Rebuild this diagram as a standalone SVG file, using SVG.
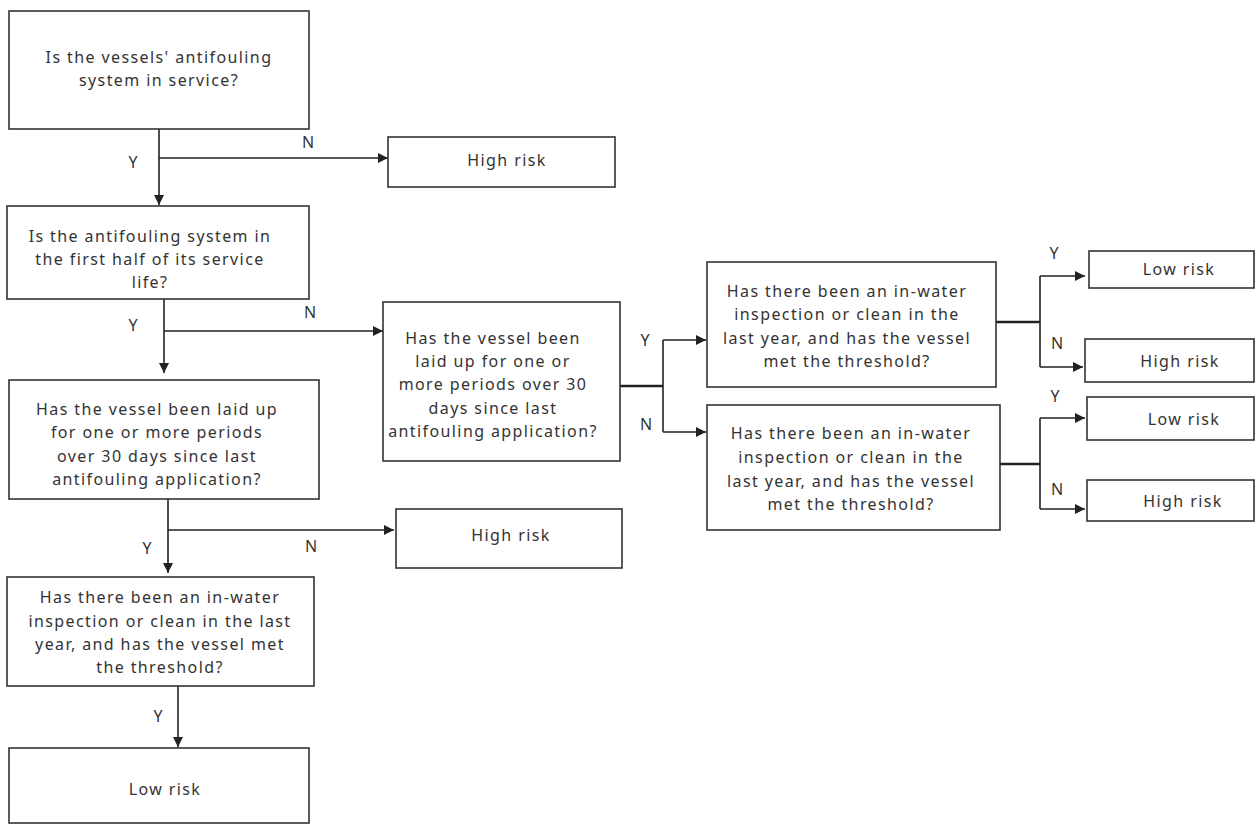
<svg xmlns="http://www.w3.org/2000/svg" width="1257" height="824" viewBox="0 0 1257 824">
<style>
.box{fill:#fff;stroke:#333;stroke-width:1.6}
.t{font-family:"Noto Sans","Open Sans","DejaVu Sans",sans-serif;font-size:16px;letter-spacing:1.4px;fill:#333;text-anchor:middle}
.lb{font-family:"Noto Sans","Open Sans","DejaVu Sans",sans-serif;font-size:16px;fill:#333;text-anchor:middle}
.c{fill:none;stroke:#222;stroke-width:1.6}
.ck{fill:none;stroke:#222;stroke-width:2.6}
</style>
<defs>
<marker id="ah" viewBox="0 0 10 10" refX="10" refY="5" markerWidth="11" markerHeight="10" markerUnits="userSpaceOnUse" orient="auto">
<path d="M0,0 L10,5 L0,10 z" fill="#222"/>
</marker>
</defs>
<rect width="1257" height="824" fill="#fff"/>

<g id="connectors">
<path class="c" d="M159,129 V205" marker-end="url(#ah)"/>
<path class="c" d="M159,158 H388" marker-end="url(#ah)"/>
<path class="c" d="M164,299 V373" marker-end="url(#ah)"/>
<path class="c" d="M164,331 H383" marker-end="url(#ah)"/>
<path class="c" d="M168,499 V573" marker-end="url(#ah)"/>
<path class="c" d="M168,530 H394" marker-end="url(#ah)"/>
<path class="c" d="M178,686 V747" marker-end="url(#ah)"/>
<path class="ck" d="M620,386 H663"/>
<path class="c" d="M663,340 V432"/>
<path class="c" d="M663,340 H706" marker-end="url(#ah)"/>
<path class="c" d="M663,432 H706" marker-end="url(#ah)"/>
<path class="ck" d="M996,322 H1040"/>
<path class="c" d="M1040,276 V367"/>
<path class="c" d="M1040,276 H1085" marker-end="url(#ah)"/>
<path class="c" d="M1040,367 H1083" marker-end="url(#ah)"/>
<path class="ck" d="M998,464 H1040"/>
<path class="c" d="M1040,418 V509"/>
<path class="c" d="M1040,418 H1085" marker-end="url(#ah)"/>
<path class="c" d="M1040,509 H1085" marker-end="url(#ah)"/>
<text class="lb" x="133" y="168">Y</text>
<text class="lb" x="308" y="148">N</text>
<text class="lb" x="133" y="331">Y</text>
<text class="lb" x="310" y="318">N</text>
<text class="lb" x="147" y="554">Y</text>
<text class="lb" x="311" y="552">N</text>
<text class="lb" x="158" y="722">Y</text>
<text class="lb" x="645" y="346">Y</text>
<text class="lb" x="646" y="430">N</text>
<text class="lb" x="1054" y="259">Y</text>
<text class="lb" x="1057" y="349">N</text>
<text class="lb" x="1055" y="402">Y</text>
<text class="lb" x="1057" y="495">N</text>
</g>

<g id="q1">
<rect class="box" x="9" y="11" width="300" height="118"/>
<text class="t" x="159" y="63">Is the vessels' antifouling</text>
<text class="t" x="159" y="86">system in service?</text>
</g>

<g id="r1">
<rect class="box" x="388" y="137" width="227" height="50"/>
<text class="t" x="507" y="166">High risk</text>
</g>

<g id="q2">
<rect class="box" x="7" y="206" width="302" height="93"/>
<text class="t" x="150" y="242">Is the antifouling system in</text>
<text class="t" x="150" y="265">the first half of its service</text>
<text class="t" x="150" y="288">life?</text>
</g>

<g id="q3">
<rect class="box" x="9" y="380" width="310" height="119"/>
<text class="t" x="157" y="415">Has the vessel been laid up</text>
<text class="t" x="157" y="438">for one or more periods</text>
<text class="t" x="157" y="462">over 30 days since last</text>
<text class="t" x="157" y="485">antifouling application?</text>
</g>

<g id="r2">
<rect class="box" x="396" y="509" width="226" height="59"/>
<text class="t" x="511" y="541">High risk</text>
</g>

<g id="q4">
<rect class="box" x="7" y="577" width="307" height="109"/>
<text class="t" x="160" y="603">Has there been an in-water</text>
<text class="t" x="160" y="627">inspection or clean in the last</text>
<text class="t" x="160" y="650">year, and has the vessel met</text>
<text class="t" x="160" y="673">the threshold?</text>
</g>

<g id="l1">
<rect class="box" x="9" y="748" width="300" height="75"/>
<text class="t" x="165" y="795">Low risk</text>
</g>

<g id="q5">
<rect class="box" x="383" y="302" width="237" height="159"/>
<text class="t" x="493" y="344">Has the vessel been</text>
<text class="t" x="493" y="367">laid up for one or</text>
<text class="t" x="493" y="390">more periods over 30</text>
<text class="t" x="493" y="414">days since last</text>
<text class="t" x="493" y="437">antifouling application?</text>
</g>

<g id="q6">
<rect class="box" x="707" y="262" width="289" height="125"/>
<text class="t" x="847" y="297">Has there been an in-water</text>
<text class="t" x="847" y="320">inspection or clean in the</text>
<text class="t" x="847" y="344">last year, and has the vessel</text>
<text class="t" x="847" y="367">met the threshold?</text>
</g>

<g id="q7">
<rect class="box" x="707" y="405" width="293" height="125"/>
<text class="t" x="851" y="439">Has there been an in-water</text>
<text class="t" x="851" y="463">inspection or clean in the</text>
<text class="t" x="851" y="487">last year, and has the vessel</text>
<text class="t" x="851" y="510">met the threshold?</text>
</g>

<g id="l2">
<rect class="box" x="1089" y="251" width="165" height="37"/>
<text class="t" x="1179" y="275">Low risk</text>
</g>

<g id="r3">
<rect class="box" x="1085" y="339" width="169" height="43"/>
<text class="t" x="1180" y="367">High risk</text>
</g>

<g id="l3">
<rect class="box" x="1087" y="397" width="167" height="43"/>
<text class="t" x="1184" y="425">Low risk</text>
</g>

<g id="r4">
<rect class="box" x="1087" y="480" width="167" height="41"/>
<text class="t" x="1183" y="507">High risk</text>
</g>
</svg>
